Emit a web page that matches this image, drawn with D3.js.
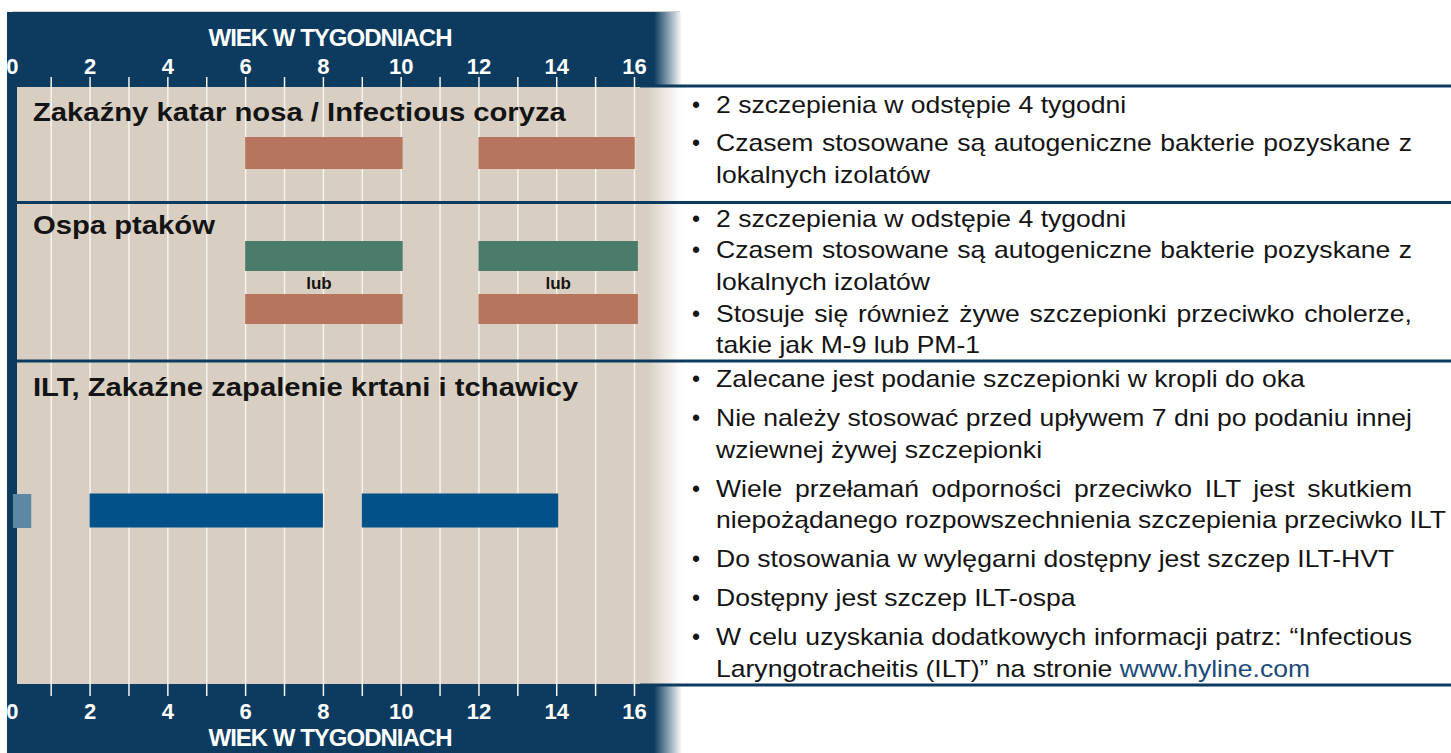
<!DOCTYPE html>
<html><head><meta charset="utf-8">
<script src="https://cdn.jsdelivr.net/npm/d3@7"></script>
<style>
body{margin:0;background:#fff}
svg{display:block}
text{font-family:"Liberation Sans",Arial,Helvetica,sans-serif}
</style>
</head><body>
<svg id="c" width="1451" height="753"></svg>
<script>
// ---------------- DATA ----------------
const gridWeeks = d3.range(1, 17);
const tickLabels = [0, 2, 4, 6, 8, 10, 12, 14, 16];
const axisTitle = "WIEK W TYGODNIACH";
const rowTitles = [
  "Zakaźny katar nosa / Infectious coryza",
  "Ospa ptaków",
  "ILT, Zakaźne zapalenie krtani i tchawicy"
];
const coryzaBars = [[6, 10.05], [12, 16.02]];
const poxBarsGreen = [[6, 10.05], [12, 16.1]];
const poxBarsCoral = [[6, 10.05], [12, 16.1]];
const altLabels = ["lub", "lub"];
const altLabelWeeks = [7.9, 14.05];
const iltHatcheryBars = [[0.03, 0.5]];
const iltBars = [[2, 8], [9, 14.05]];

const notesCoryza = [
  ["2 szczepienia w odstępie 4 tygodni"],
  ["Czasem stosowane są autogeniczne bakterie pozyskane z", "lokalnych izolatów"]
];
const notesPox = [
  ["2 szczepienia w odstępie 4 tygodni"],
  ["Czasem stosowane są autogeniczne bakterie pozyskane z", "lokalnych izolatów"],
  ["Stosuje się również żywe szczepionki przeciwko cholerze,", "takie jak M-9 lub PM-1"]
];
const notesIlt = [
  ["Zalecane jest podanie szczepionki w kropli do oka"],
  ["Nie należy stosować przed upływem 7 dni po podaniu innej", "wziewnej żywej szczepionki"],
  ["Wiele przełamań odporności przeciwko ILT jest skutkiem", "niepożądanego rozpowszechnienia szczepienia przeciwko ILT"],
  ["Do stosowania w wylęgarni dostępny jest szczep ILT-HVT"],
  ["Dostępny jest szczep ILT-ospa"],
  ["W celu uzyskania dodatkowych informacji patrz: “Infectious", "Laryngotracheitis (ILT)” na stronie www.hyline.com"]
];

// ---------------- STYLE / LAYOUT ----------------
const C = {
  navy: "#0c3b5f", tan: "#d8cfc2", coral: "#b8755e", green: "#4a7b6b",
  blue: "#025289", lightBlue: "#5e87a2", text: "#141414", link: "#1d4a78"
};
const svg = d3.select("#c");
const W = 1451;
const x = d3.scaleLinear().domain([0, 16]).range([11.8, 634]);

const defs = svg.append("defs");
function fade(id, col) {
  const g = defs.append("linearGradient").attr("id", id).attr("x1", 0).attr("x2", 1).attr("y1", 0).attr("y2", 0);
  g.append("stop").attr("offset", 0).attr("stop-color", col);
  g.append("stop").attr("offset", 1).attr("stop-color", "#fff");
}
fade("navyFade", C.navy);
fade("tanFade", C.tan);
defs.append("clipPath").attr("id", "leftClip").append("rect")
  .attr("x", 7).attr("y", 0).attr("width", 700).attr("height", 753);

// background panels
svg.append("line").attr("x1", 12).attr("x2", 680).attr("y1", 11.5).attr("y2", 11.5)
  .attr("stroke", "#cfcfcf").attr("stroke-width", 1);
svg.append("rect").attr("x", 7).attr("y", 12).attr("width", 647).attr("height", 741).attr("fill", C.navy);
svg.append("rect").attr("x", 654).attr("y", 12).attr("width", 28).attr("height", 741).attr("fill", "url(#navyFade)");
svg.append("rect").attr("x", 17).attr("y", 87).attr("width", 632).attr("height", 597).attr("fill", C.tan);
svg.append("rect").attr("x", 648).attr("y", 87).attr("width", 33).attr("height", 597).attr("fill", "url(#tanFade)");

// gridlines (via axis)
const gridTop = 77, gridBottom = 696;
const grid = svg.append("g").attr("transform", `translate(0,${gridTop})`)
  .call(d3.axisBottom(x).tickValues(gridWeeks).tickSize(gridBottom - gridTop).tickFormat(""));
grid.select(".domain").remove();
grid.selectAll("line").attr("stroke", "#f6f3ee").attr("stroke-width", 1.5);

// tick labels top and bottom
function tickRow(yBase) {
  const g = svg.append("g").attr("clip-path", "url(#leftClip)")
    .append("g").attr("transform", `translate(0,${yBase})`)
    .call(d3.axisTop(x).tickValues(tickLabels).tickSize(0).tickPadding(0).tickFormat(d3.format("d")));
  g.select(".domain").remove();
  g.selectAll("line").remove();
  g.selectAll("text").attr("fill", "#fff").attr("font-size", 22).attr("font-weight", "bold")
    .style("font-family", '"Liberation Sans",Arial,sans-serif');
}
tickRow(74);
tickRow(719);

[46, 746].forEach(yb => {
  svg.append("text").attr("x", 330).attr("y", yb).attr("text-anchor", "middle")
    .attr("fill", "#fff").attr("font-size", 24).attr("font-weight", "bold")
    .attr("letter-spacing", "-1px").text(axisTitle);
});

// separator lines
[86, 202.5, 361, 685].forEach((yy, i) => {
  svg.append("line").attr("x1", (i === 0 || i === 3) ? 640 : 17).attr("x2", W)
    .attr("y1", yy).attr("y2", yy).attr("stroke", C.navy).attr("stroke-width", 3);
});

// row titles (slightly widened type, as in the original)
const titleBase = [121, 233.5, 396];
const titleStretch = 1.125;
svg.selectAll("text.rowTitle").data(rowTitles).join("text").attr("class", "rowTitle")
  .attr("transform", (d, i) => `translate(33,${titleBase[i]}) scale(${titleStretch},1)`)
  .attr("font-size", 26).attr("font-weight", "bold").attr("fill", C.text)
  .text(d => d);

// bars
function bars(data, y0, h, fill) {
  svg.append("g").selectAll("rect").data(data).join("rect")
    .attr("x", d => x(d[0])).attr("width", d => x(d[1]) - x(d[0]))
    .attr("y", y0).attr("height", h).attr("fill", fill);
}
bars(coryzaBars, 137, 32, C.coral);
bars(poxBarsGreen, 241, 30, C.green);
bars(poxBarsCoral, 294, 30, C.coral);
bars(iltHatcheryBars, 494, 34, C.lightBlue);
bars(iltBars, 493.5, 34, C.blue);

svg.selectAll("text.alt").data(altLabels).join("text").attr("class", "alt")
  .attr("x", (d, i) => x(altLabelWeeks[i])).attr("y", 289).attr("text-anchor", "middle")
  .attr("font-size", 17).attr("font-weight", "bold").attr("fill", C.text).text(d => d);

// notes (justified paragraphs: wrapped lines are spread to the column width)
const noteStretch = 1.155;
const noteLeft = 716, noteRight = 1412;
function notes(list, start, lh, gap) {
  let yb = start;
  const g = svg.append("g");
  list.forEach((bullet, bi) => {
    if (bi > 0) yb += gap;
    g.append("text").attr("x", 692).attr("y", yb).attr("font-size", 23).attr("fill", C.text).text("•");
    bullet.forEach((line, li) => {
      if (li > 0) yb += lh;
      const t = g.append("text").attr("transform", `translate(${noteLeft},${yb}) scale(${noteStretch},1)`)
        .attr("font-size", 23).attr("fill", C.text);
      line.split(/(www\.hyline\.com)/).filter(s => s.length).forEach(part => {
        t.append("tspan").attr("fill", part === "www.hyline.com" ? C.link : C.text).text(part);
      });
      if (li < bullet.length - 1) {
        const natural = t.node().getComputedTextLength();
        const target = (noteRight - noteLeft) / noteStretch;
        const spaces = (line.match(/ /g) || []).length;
        if (spaces && target > natural) t.attr("word-spacing", (target - natural) / spaces);
      }
    });
  });
}
notes(notesCoryza, 113, 31.5, 38);
notes(notesPox, 226.7, 31.65, 31.65);
notes(notesIlt, 387, 31.7, 39);
</script>
</body></html>
